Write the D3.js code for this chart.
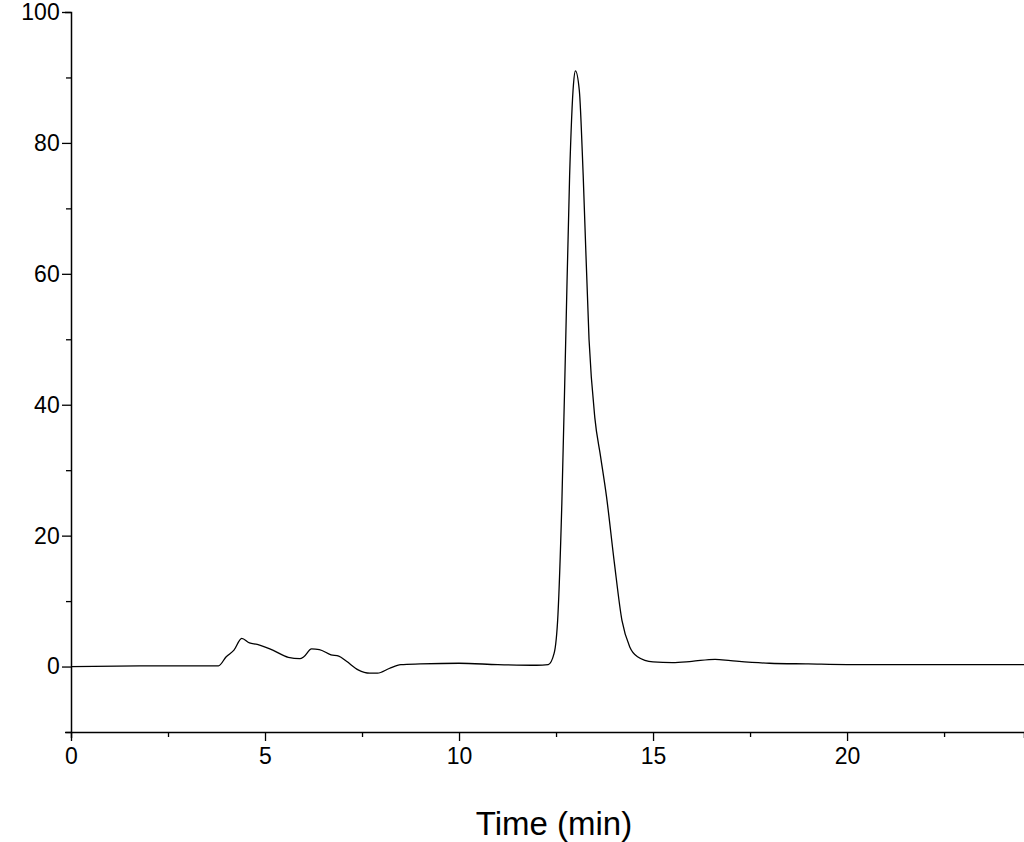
<!DOCTYPE html>
<html><head><meta charset="utf-8">
<script src="https://cdn.jsdelivr.net/npm/d3@7"></script>
<style>body{margin:0;background:#fff}text{font-family:"Liberation Sans",Arial,sans-serif}</style>
</head><body><svg id="c" width="1024" height="842"></svg>
<script>
const times=[0,2,3.8,4.0,4.2,4.4,4.6,4.8,5.2,5.6,5.9,6.0,6.2,6.4,6.7,6.9,7.1,7.4,7.7,7.9,8.2,8.5,9,10,11,12,12.3,12.45,12.55,12.65,12.75,12.85,12.95,13.0,13.1,13.2,13.35,13.5,13.65,13.8,14.0,14.2,14.4,14.6,15,15.5,16,16.6,17,18,19,20,24.56];
const values=[0,0.1,0.1,1.5,2.5,4.3,3.6,3.4,2.5,1.4,1.2,1.5,2.7,2.6,1.8,1.6,0.8,-0.5,-1.0,-1.0,-0.3,0.3,0.4,0.5,0.3,0.2,0.3,2,8,25,50,75,89,91,88,75,50,38,32,26,16,7,3,1.5,0.7,0.6,0.8,1.1,0.9,0.5,0.4,0.3,0.3];
const xTicks=[0,5,10,15,20];
const yTicks=[0,20,40,60,80,100];
const svg=d3.select("#c");
const x=d3.scaleLinear().domain([0,24.56]).range([71,1024]);
const y=d3.scaleLinear().domain([-10,100]).range([732,12]);
const xa=svg.append("g").attr("transform","translate(0,732)")
 .call(d3.axisBottom(x).tickValues(d3.range(0,24.6,2.5)).tickSize(6).tickFormat(d=>xTicks.includes(d)?d:""));
xa.selectAll(".tick line").attr("y2",d=>xTicks.includes(d)?9:5);
const ya=svg.append("g").attr("transform","translate(71,0)")
 .call(d3.axisLeft(y).tickValues(d3.range(-10,100.1,10)).tickFormat(d=>yTicks.includes(d)?d:""));
ya.selectAll(".tick line").attr("x2",d=>yTicks.includes(d)?-9:-5);
[xa,ya].forEach(a=>{a.select(".domain").attr("stroke","#000").attr("stroke-width",1.5);
 a.selectAll(".tick line").attr("stroke","#000").attr("stroke-width",1.3);
 a.selectAll("text").attr("font-size",23).attr("fill","#000");});
xa.selectAll("text").attr("dy","1.0em");
ya.selectAll("text").attr("dx","-0.1em");
svg.append("path").datum(times.map((t,i)=>[t,values[i]]))
 .attr("d",d3.line().x(d=>x(d[0])).y(d=>y(d[1])).curve(d3.curveMonotoneX))
 .attr("fill","none").attr("stroke","#000").attr("stroke-width",1.3);
svg.append("text").attr("x",554).attr("y",835).attr("text-anchor","middle").attr("font-size",33).text("Time (min)");
</script></body></html>
